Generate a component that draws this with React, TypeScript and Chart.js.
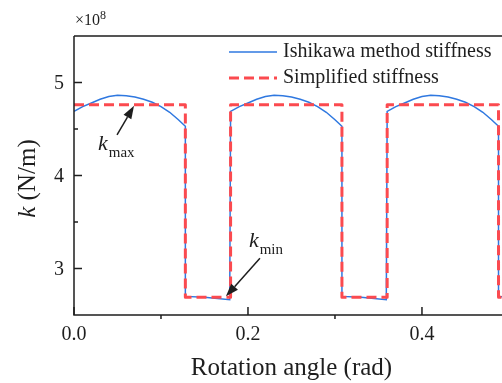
import { useEffect, useRef } from 'react';
import { Chart, registerables } from 'chart.js';

Chart.register(...registerables);

const FONT = "'Liberation Serif', 'Times New Roman', serif";
const INK = '#1e1e1e';
const BLUE = '#2f78e0';
const RED = '#fb4a4f';

// Ishikawa method stiffness (x 1e8 N/m) vs rotation angle (rad)
const blueAngle = [
  0, 0.01, 0.02, 0.03, 0.04, 0.05, 0.06, 0.07, 0.08, 0.09, 0.1, 0.11, 0.12, 0.128, 0.128, 0.15, 0.179,
  0.18, 0.19, 0.2, 0.21, 0.22, 0.23, 0.24, 0.25, 0.26, 0.27, 0.28, 0.29, 0.3, 0.308, 0.308, 0.33, 0.359,
  0.36, 0.37, 0.38, 0.39, 0.4, 0.41, 0.42, 0.43, 0.44, 0.45, 0.46, 0.47, 0.48, 0.488, 0.488, 0.5,
];
const blueStiffness = [
  4.69, 4.74, 4.78, 4.82, 4.85, 4.862, 4.858, 4.843, 4.82, 4.788, 4.74, 4.68, 4.6, 4.53, 2.7, 2.69, 2.665,
  4.69, 4.74, 4.78, 4.82, 4.85, 4.862, 4.858, 4.843, 4.82, 4.788, 4.74, 4.68, 4.6, 4.53, 2.7, 2.69, 2.665,
  4.69, 4.74, 4.78, 4.82, 4.85, 4.862, 4.858, 4.843, 4.82, 4.788, 4.74, 4.68, 4.6, 4.53, 2.7, 2.69,
];

// Simplified stiffness
const redAngle = [0, 0.128, 0.128, 0.18, 0.18, 0.308, 0.308, 0.36, 0.36, 0.488, 0.488, 0.5];
const redStiffness = [4.76, 4.76, 2.69, 2.69, 4.76, 4.76, 2.69, 2.69, 4.76, 4.76, 2.69, 2.69];

const legendLabels = ['Ishikawa method stiffness', 'Simplified stiffness'];
const xTitle = 'Rotation angle (rad)';
const yTitleItalic = 'k';
const yTitleRest = ' (N/m)';

const xMajorTicks = [0, 0.2, 0.4];
const xMajorLabels = ['0.0', '0.2', '0.4'];
const xMinorTicks = [0.1, 0.3];
const yMajorTicks = [3, 4, 5];
const yMajorLabels = ['3', '4', '5'];
const yMinorTicks = [3.5, 4.5];

const xMin = 0;
const xMax = 0.492;
const xFullMax = 0.5;
const yMin = 2.5;
const yMax = 5.5;

// annotation targets (data coords)
const kMaxPoint = { x: 0.069, y: 4.76 };
const kMinPoint = { x: 0.1735, y: 2.69 };

function arrow(ctx: CanvasRenderingContext2D, x0: number, y0: number, x1: number, y1: number) {
  const ang = Math.atan2(y1 - y0, x1 - x0);
  const len = 13;
  const hw = 4.5;
  const bx = x1 - len * Math.cos(ang);
  const by = y1 - len * Math.sin(ang);
  ctx.strokeStyle = INK;
  ctx.lineWidth = 1.5;
  ctx.beginPath();
  ctx.moveTo(x0, y0);
  ctx.lineTo(bx, by);
  ctx.stroke();
  ctx.fillStyle = INK;
  ctx.beginPath();
  ctx.moveTo(x1, y1);
  ctx.lineTo(bx + hw * Math.sin(ang), by - hw * Math.cos(ang));
  ctx.lineTo(bx - hw * Math.sin(ang), by + hw * Math.cos(ang));
  ctx.closePath();
  ctx.fill();
}

function kLabel(ctx: CanvasRenderingContext2D, x: number, y: number, sub: string) {
  ctx.fillStyle = INK;
  ctx.textAlign = 'left';
  ctx.textBaseline = 'alphabetic';
  ctx.font = `italic 22px ${FONT}`;
  ctx.fillText('k', x, y);
  const w = ctx.measureText('k').width;
  ctx.font = `15px ${FONT}`;
  ctx.fillText(sub, x + w + 1, y + 7);
}

const overlay = {
  id: 'overlay',
  afterDraw(chart: any) {
    const { ctx, chartArea: a, scales } = chart;
    const xs = scales.x;
    const ys = scales.y;
    ctx.save();
    // axes frame
    ctx.strokeStyle = INK;
    ctx.lineWidth = 1.5;
    ctx.beginPath();
    ctx.moveTo(a.left, a.top);
    ctx.lineTo(a.left, a.bottom);
    ctx.lineTo(a.right + 2, a.bottom);
    ctx.moveTo(a.left, a.top);
    ctx.lineTo(a.right + 2, a.top);
    ctx.stroke();
    // ticks
    ctx.beginPath();
    for (const v of yMajorTicks) {
      const y = ys.getPixelForValue(v);
      ctx.moveTo(a.left, y);
      ctx.lineTo(a.left + 8, y);
    }
    for (const v of yMinorTicks) {
      const y = ys.getPixelForValue(v);
      ctx.moveTo(a.left, y);
      ctx.lineTo(a.left + 4, y);
    }
    for (const v of xMajorTicks) {
      const x = xs.getPixelForValue(v);
      ctx.moveTo(x, a.bottom);
      ctx.lineTo(x, a.bottom - 8);
    }
    for (const v of xMinorTicks) {
      const x = xs.getPixelForValue(v);
      ctx.moveTo(x, a.bottom);
      ctx.lineTo(x, a.bottom + 4);
    }
    ctx.stroke();

    // tick labels
    ctx.fillStyle = INK;
    ctx.font = `20px ${FONT}`;
    ctx.textBaseline = 'middle';
    ctx.textAlign = 'right';
    yMajorTicks.forEach((v, i) => {
      ctx.fillText(yMajorLabels[i], a.left - 10, ys.getPixelForValue(v) + 1);
    });
    ctx.textAlign = 'center';
    xMajorTicks.forEach((v, i) => {
      ctx.fillText(xMajorLabels[i], xs.getPixelForValue(v), a.bottom + 20);
    });

    // exponent label
    ctx.textAlign = 'left';
    ctx.textBaseline = 'alphabetic';
    ctx.font = `16px ${FONT}`;
    ctx.fillText('\u00d710', a.left + 1, a.top - 11);
    const w10 = ctx.measureText('\u00d710').width;
    ctx.font = `12px ${FONT}`;
    ctx.fillText('8', a.left + 1 + w10, a.top - 17);

    // legend
    const lx0 = 229;
    const lx1 = 277;
    const ly0 = 52;
    const ly1 = 78;
    ctx.lineWidth = 1.5;
    ctx.strokeStyle = BLUE;
    ctx.beginPath();
    ctx.moveTo(lx0, ly0);
    ctx.lineTo(lx1, ly0);
    ctx.stroke();
    ctx.lineWidth = 3;
    ctx.strokeStyle = RED;
    ctx.setLineDash([10, 5]);
    ctx.beginPath();
    ctx.moveTo(lx0, ly1);
    ctx.lineTo(lx1, ly1);
    ctx.stroke();
    ctx.setLineDash([]);
    ctx.fillStyle = INK;
    ctx.font = `20px ${FONT}`;
    ctx.textBaseline = 'middle';
    ctx.fillText(legendLabels[0], 283, ly0);
    ctx.fillText(legendLabels[1], 283, ly1);

    // annotations
    const t1x = xs.getPixelForValue(kMaxPoint.x);
    const t1y = ys.getPixelForValue(kMaxPoint.y);
    arrow(ctx, t1x - 17, t1y + 30, t1x, t1y + 1);
    kLabel(ctx, t1x - 36, t1y + 45, 'max');
    const t2x = xs.getPixelForValue(kMinPoint.x);
    const t2y = ys.getPixelForValue(kMinPoint.y);
    arrow(ctx, t2x + 35, t2y - 39, t2x + 1, t2y - 1);
    kLabel(ctx, t2x + 24, t2y - 50, 'min');

    // axis titles
    ctx.fillStyle = INK;
    ctx.font = `25px ${FONT}`;
    ctx.textAlign = 'center';
    ctx.textBaseline = 'alphabetic';
    const fullRight = xs.getPixelForValue(xFullMax);
    ctx.fillText(xTitle, (a.left + fullRight) / 2, 375);

    ctx.translate(35, (a.top + a.bottom) / 2 + 3);
    ctx.rotate(-Math.PI / 2);
    ctx.font = `italic 25px ${FONT}`;
    const wk = ctx.measureText(yTitleItalic).width;
    ctx.font = `25px ${FONT}`;
    const wr = ctx.measureText(yTitleRest).width;
    const start = -(wk + wr) / 2;
    ctx.textAlign = 'left';
    ctx.font = `italic 25px ${FONT}`;
    ctx.fillText(yTitleItalic, start, 0);
    ctx.font = `25px ${FONT}`;
    ctx.fillText(yTitleRest, start + wk, 0);
    ctx.restore();
  },
};

export default function App() {
  const ref = useRef<HTMLCanvasElement>(null);
  useEffect(() => {
    const canvas = ref.current;
    if (!canvas) return;
    const chart = new Chart(canvas, {
      type: 'line',
      data: {
        datasets: [
          {
            label: legendLabels[1],
            data: redAngle.map((x, i) => ({ x, y: redStiffness[i] })),
            borderColor: RED,
            borderWidth: 3,
            borderDash: [10, 5],
            borderJoinStyle: 'round',
            pointRadius: 0,
            tension: 0,
            fill: false,
            order: 0,
          },
          {
            label: legendLabels[0],
            data: blueAngle.map((x, i) => ({ x, y: blueStiffness[i] })),
            borderColor: BLUE,
            borderWidth: 1.5,
            pointRadius: 0,
            tension: 0,
            fill: false,
            order: 1,
          },
        ],
      },
      options: {
        animation: false,
        responsive: false,
        devicePixelRatio: 1,
        layout: { padding: { top: 36, left: 0, right: 0, bottom: 0 } },
        plugins: { legend: { display: false }, tooltip: { enabled: false } },
        scales: {
          x: {
            type: 'linear',
            min: xMin,
            max: xMax,
            grid: { display: false, drawTicks: false },
            border: { display: false },
            ticks: { display: false },
            afterFit: (s: any) => {
              s.height = 68;
              s.paddingLeft = 0;
              s.paddingRight = 0;
            },
          },
          y: {
            type: 'linear',
            min: yMin,
            max: yMax,
            grid: { display: false, drawTicks: false },
            border: { display: false },
            ticks: { display: false },
            afterFit: (s: any) => {
              s.width = 74;
              s.paddingTop = 0;
              s.paddingBottom = 0;
            },
          },
        },
      },
      plugins: [overlay],
    } as any);
    return () => chart.destroy();
  }, []);
  return (
    <div style={{ position: 'fixed', left: 0, top: 0, width: 502, height: 383, background: '#fff', overflow: 'hidden' }}>
      <canvas ref={ref} width={502} height={383} style={{ display: 'block', width: 502, height: 383 }} />
    </div>
  );
}
